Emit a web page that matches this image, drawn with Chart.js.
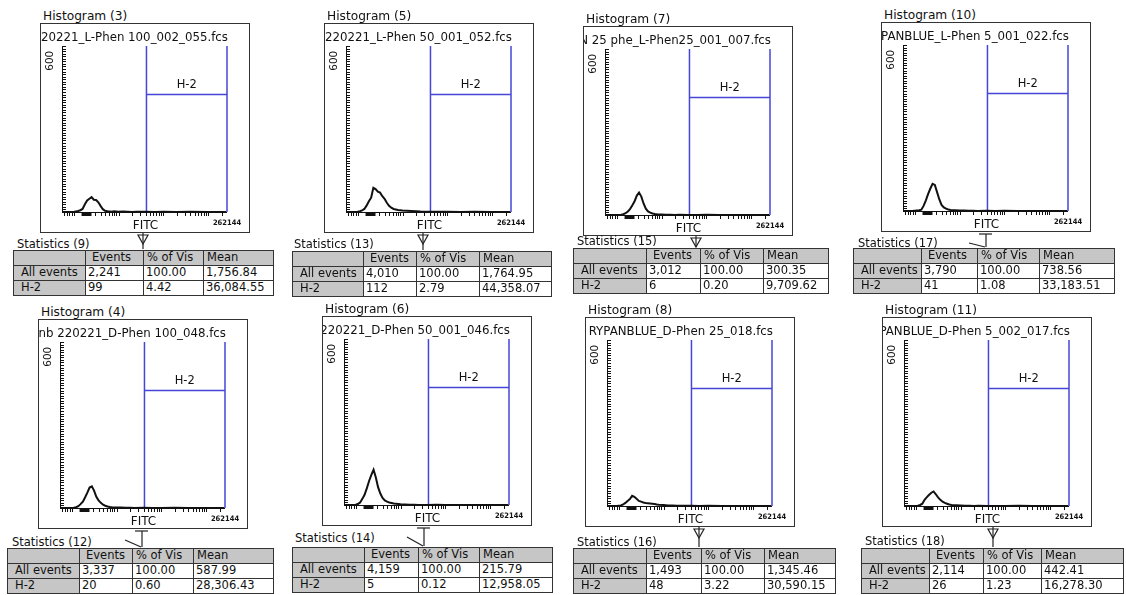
<!DOCTYPE html>
<html>
<head>
<meta charset="utf-8">
<script src="https://cdn.jsdelivr.net/npm/chart.js@4.4.0/dist/chart.umd.min.js"></script>
<style>
  html, body { margin: 0; padding: 0; background: #fff; }
  body { width: 1126px; height: 595px; position: relative; overflow: hidden;
         font-family: "DejaVu Sans", Verdana, sans-serif; color: #111; }
  .ttl { position: absolute; font-size: 11.5px; line-height: 13px; white-space: nowrap; }
  .ttl.h { font-size: 12.2px; }
  .frame { position: absolute; width: 210px; height: 210px; box-sizing: border-box;
           border: 1px solid #333; overflow: hidden; background: #fff; }
  .frame canvas { position: absolute; left: -1px; top: -1px; }
  .fname { position: absolute; top: 7px; right: 21px; white-space: nowrap;
           font-size: 11.8px; line-height: 13px; }
  .cell { position: absolute; box-sizing: border-box; border: 1px solid #333;
          font-size: 11.5px; line-height: 13px; white-space: nowrap; overflow: hidden;
          background: #fff; padding-left: 2px; }
  .cell.g { background: #c6c6c6; }
  svg.links { position: absolute; left: 0; top: 0; pointer-events: none; }
</style>
</head>
<body>
<svg class="links" id="links" width="1126" height="595"></svg>
<script>
// ---- data ---------------------------------------------------------------
const histNumbers  = [3, 5, 7, 10, 4, 6, 8, 11];
const statNumbers  = [9, 13, 15, 17, 12, 14, 16, 18];
const fileNames = [
  "220221_L-Phen 100_002_055.fcs",
  "220221_L-Phen 50_001_052.fcs",
  "N 25 phe_L-Phen25_001_007.fcs",
  "PANBLUE_L-Phen 5_001_022.fcs",
  "nb 220221_D-Phen 100_048.fcs",
  "220221_D-Phen 50_001_046.fcs",
  "RYPANBLUE_D-Phen 25_018.fcs",
  "PANBLUE_D-Phen 5_002_017.fcs"
];

// FITC bin centres (log spaced channel values)
const fitcBins = [56, 63, 71, 79, 89, 100, 112, 126, 141, 158, 178, 200, 224, 251, 282, 316,
                  355, 398, 447, 501, 562, 631, 708, 794, 1000, 1259, 1585, 1995, 2512, 3981,
                  6310, 10000, 19953, 39811, 100000, 251189];

// event counts per bin
const countsHist3  = [0,0,0,0,0, 0,2,4,7,12, 30,45,52,58,48, 47,38,24,11,5, 3,2,1,3,1, 2,1,0,1,1, 0,1,0,1,0, 0];
const countsHist5  = [0,0,0,0,0, 1,3,6,12,25, 42,56,95,90,80, 76,62,52,36,24, 17,12,10,8,6, 5,4,3,2,1, 1,1,0,1,0, 0];
const countsHist7  = [0,0,0,0,0, 0,0,1,3,7, 14,24,38,54,76, 88,72,45,25,14, 9,6,4,3,2, 1,1,0,1,0, 0,1,0,0,0, 0];
const countsHist10 = [0,0,0,0,0, 1,2,3,5,20, 42,67,88,106,102, 74,45,24,14,9, 6,4,3,3,2, 2,1,1,0,1, 0,1,0,0,0, 0];
const countsHist4  = [0,0,0,0,0, 0,1,3,7,15, 25,42,60,80,85, 68,44,30,20,13, 9,6,4,3,2, 2,1,1,0,1, 0,0,1,0,0, 0];
const countsHist6  = [0,0,0,0,0, 1,4,10,24,40, 66,95,118,138,108, 70,45,28,18,13, 10,8,6,5,3, 2,1,1,0,0, 1,0,0,0,0, 0];
const countsHist8  = [0,0,0,0,0, 1,2,6,12,20, 27,40,36,28,20, 17,14,12,11,10, 9,8,6,5,4, 2,2,1,1,1, 0,1,0,0,0, 0];
const countsHist11 = [0,0,0,0,0, 0,1,4,9,24, 35,44,52,57,46, 34,24,17,12,9, 6,4,3,3,2, 1,1,0,1,0, 0,0,1,0,0, 0];
const panelCounts = [countsHist3, countsHist5, countsHist7, countsHist10,
                     countsHist4, countsHist6, countsHist8, countsHist11];

// H-2 gate (FITC range) and the height of its bar
const gateBounds = [4200, 262144];
const gateLevel = 460;
const gateName = "H-2";

// axes
const fitcRange = [55, 262144];
const countMax = 650;
const countTickStep = 10;
const countTickLabels = [600];
const fitcTickLabels = [262144];
const tickDecades = [10, 100, 1000, 10000, 100000];
const tickMantissas = [1, 2, 3, 4, 5, 6, 7, 8, 9];
const markerRange = [150, 250];
const axisTitle = "FITC";

// statistics tables
const statHeader = ["", "Events", "% of Vis", "Mean"];
const rowNames = ["All events", "H-2"];
const allEvents = [2241, 4010, 3012, 3790, 3337, 4159, 1493, 2114];
const allPct    = [100.00, 100.00, 100.00, 100.00, 100.00, 100.00, 100.00, 100.00];
const allMean   = [1756.84, 1764.95, 300.35, 738.56, 587.99, 215.79, 1345.46, 442.41];
const h2Events  = [99, 112, 6, 41, 20, 5, 48, 26];
const h2Pct     = [4.42, 2.79, 0.20, 1.08, 0.60, 0.12, 3.22, 1.23];
const h2Mean    = [36084.55, 44358.07, 9709.62, 33183.51, 28306.43, 12958.05, 30590.15, 16278.30];

// ---- layout -------------------------------------------------------------
const framePos  = [[40,23],[324,23],[583,26],[881,22],[38,319],[322,316],[585,317],[882,317]];
const statLabelPos = [[17,238],[294,238],[577,235],[858,237],[12,536],[295,532],[577,536],[865,535]];
const tablePos  = [[13,250],[292,251],[573,248],[853,248],[7,548],[292,547],[573,548],[861,548]];
const tableCols = [[72,58,60,70],[71,53,63,72],[73,54,63,65],[68,56,62,75],
                   [72,53,61,80],[72,54,61,73],[73,55,63,71],[68,54,58,82]];
const linkPos   = [[143,'tri'],[423,'tri'],[696,'tri'],[986,'tee'],
                   [142,'tee'],[424,'tee'],[699,'tri'],[993,'tri']];
const ROW_H = 15;
const FRAME = 210;
const PAD = { left: 22, top: 23, right: 23, bottom: 21 };

const fmt2 = v => v.toLocaleString('en-US', { minimumFractionDigits: 2, maximumFractionDigits: 2 });
const fmt0 = v => v.toLocaleString('en-US');

// axis lines, tick marks, gate label and axis labels of each histogram
const cytoAxes = {
  id: 'cytoAxes',
  beforeDatasetsDraw(chart) {
    const { ctx, chartArea: a, scales: { x, y } } = chart;
    ctx.save();
    ctx.strokeStyle = '#111';
    ctx.lineWidth = 1;
    ctx.beginPath();
    ctx.moveTo(a.left + 0.5, a.top);
    ctx.lineTo(a.left + 0.5, a.bottom + 0.5);
    ctx.lineTo(a.right, a.bottom + 0.5);
    ctx.stroke();
    // count ticks, inside the plot
    ctx.beginPath();
    for (let v = 0; v <= countMax; v += countTickStep) {
      const py = Math.round(y.getPixelForValue(v)) + 0.5;
      ctx.moveTo(a.left, py); ctx.lineTo(a.left + 4, py);
    }
    ctx.stroke();
    // FITC log ticks, below the axis
    ctx.beginPath();
    tickDecades.forEach(d => tickMantissas.forEach(m => {
      const v = d * m;
      if (v < fitcRange[0] || v > fitcRange[1]) return;
      const px = Math.round(x.getPixelForValue(v)) + 0.5;
      ctx.moveTo(px, a.bottom); ctx.lineTo(px, a.bottom + 4);
    }));
    ctx.stroke();
    // marker bar under the main population
    const m0 = x.getPixelForValue(markerRange[0]), m1 = x.getPixelForValue(markerRange[1]);
    ctx.fillStyle = '#111';
    ctx.fillRect(m0, a.bottom + 1, m1 - m0, 3);
    ctx.restore();
  },
  afterDraw(chart) {
    const { ctx, chartArea: a, scales: { x, y } } = chart;
    ctx.save();
    ctx.fillStyle = '#111';
    ctx.textAlign = 'center';
    ctx.textBaseline = 'middle';
    // count label, rotated
    ctx.font = '10.5px "DejaVu Sans"';
    countTickLabels.forEach(v => {
      ctx.save();
      ctx.translate(a.left - 12, y.getPixelForValue(v) + 2);
      ctx.rotate(-Math.PI / 2);
      ctx.fillText(String(v), 0, 0);
      ctx.restore();
    });
    // FITC end label
    ctx.font = 'bold 7.5px "DejaVu Sans Condensed", "DejaVu Sans"';
    fitcTickLabels.forEach(v => ctx.fillText(String(v), x.getPixelForValue(v), a.bottom + 11));
    // axis title
    ctx.font = '12px "DejaVu Sans"';
    ctx.fillText(axisTitle, x.getPixelForValue(gateBounds[0]) - 1, a.bottom + 13.5);
    // gate name above its bar
    ctx.font = '11.5px "DejaVu Sans"';
    const gx = (x.getPixelForValue(gateBounds[0]) + x.getPixelForValue(gateBounds[1])) / 2;
    ctx.fillText(gateName, gx, y.getPixelForValue(gateLevel) - 10);
    ctx.restore();
  }
};

function addDiv(cls, left, top, text, extra) {
  const d = document.createElement('div');
  d.className = cls;
  d.style.left = left + 'px';
  d.style.top = top + 'px';
  if (extra) Object.assign(d.style, extra);
  d.textContent = text;
  document.body.appendChild(d);
  return d;
}

const svgNS = 'http://www.w3.org/2000/svg';
const links = document.getElementById('links');
function svgEl(tag, attrs) {
  const e = document.createElementNS(svgNS, tag);
  for (const k in attrs) e.setAttribute(k, attrs[k]);
  e.setAttribute('stroke', '#222');
  e.setAttribute('stroke-width', '1.2');
  e.setAttribute('fill', 'none');
  links.appendChild(e);
}

histNumbers.forEach((hn, i) => {
  const [fx, fy] = framePos[i];

  addDiv('ttl h', fx + 3, fy - 13, 'Histogram (' + hn + ')');

  const frame = document.createElement('div');
  frame.className = 'frame';
  frame.style.left = fx + 'px';
  frame.style.top = fy + 'px';
  document.body.appendChild(frame);

  const cv = document.createElement('canvas');
  cv.width = FRAME; cv.height = FRAME;
  frame.appendChild(cv);

  const fn = document.createElement('div');
  fn.className = 'fname';
  fn.textContent = fileNames[i];
  frame.appendChild(fn);

  const counts = panelCounts[i];
  new Chart(cv, {
    type: 'line',
    data: {
      datasets: [
        {
          data: fitcBins.map((b, k) => ({ x: b, y: counts[k] })),
          borderColor: '#111', borderWidth: 2, pointRadius: 0, tension: 0, fill: false
        },
        {
          data: [
            { x: gateBounds[0], y: 0 }, { x: gateBounds[0], y: countMax },
            { x: gateBounds[0], y: gateLevel }, { x: gateBounds[1], y: gateLevel },
            { x: gateBounds[1], y: countMax }, { x: gateBounds[1], y: 0 }
          ],
          borderColor: '#4545d8', borderWidth: 1.5, pointRadius: 0, tension: 0, fill: false,
          clip: 4
        }
      ]
    },
    options: {
      responsive: false, animation: false, devicePixelRatio: 1, events: [],
      layout: { padding: PAD },
      scales: {
        x: { type: 'logarithmic', min: fitcRange[0], max: fitcRange[1], display: false },
        y: { type: 'linear', min: 0, max: countMax, display: false }
      },
      plugins: { legend: { display: false }, tooltip: { enabled: false } }
    },
    plugins: [cytoAxes]
  });

  // statistics label and table
  const [lx, ly] = statLabelPos[i];
  addDiv('ttl', lx, ly, 'Statistics (' + statNumbers[i] + ')');

  const [tx, ty] = tablePos[i];
  const cols = tableCols[i];
  const rows = [
    statHeader,
    [rowNames[0], fmt0(allEvents[i]), fmt2(allPct[i]), fmt2(allMean[i])],
    [rowNames[1], fmt0(h2Events[i]), fmt2(h2Pct[i]), fmt2(h2Mean[i])]
  ];
  rows.forEach((row, r) => {
    let cx = tx;
    row.forEach((txt, c) => {
      const grey = r === 0 || c === 0;
      let pad = 2;
      if (r === 0) pad = c === 1 ? 6 : 3;
      if (r > 0 && c === 0) pad = 7;
      addDiv('cell' + (grey ? ' g' : ''), cx, ty + r * ROW_H, txt, {
        width: (cols[c] + 1) + 'px', height: (ROW_H + 1) + 'px', paddingLeft: pad + 'px'
      });
      cx += cols[c];
    });
  });

  // connector between histogram and its table
  const [lxk, kind] = linkPos[i];
  const y0 = fy + FRAME, y1 = ty;
  if (kind === 'tri') {
    svgEl('line', { x1: lxk, y1: y0, x2: lxk, y2: y1 - 1 });
    svgEl('polygon', { points: `${lxk - 5},${y0 + 2} ${lxk + 5},${y0 + 2} ${lxk},${y0 + 11}` });
  } else {
    svgEl('line', { x1: lxk - 7, y1: y0 + 2, x2: lxk + 6, y2: y0 + 2 });
    svgEl('line', { x1: lxk, y1: y0 + 2, x2: lxk, y2: y1 - 1 });
    svgEl('line', { x1: lxk - 17, y1: y0 + 11, x2: lxk - 1, y2: y1 - 1 });
  }
});
</script>
</body>
</html>
